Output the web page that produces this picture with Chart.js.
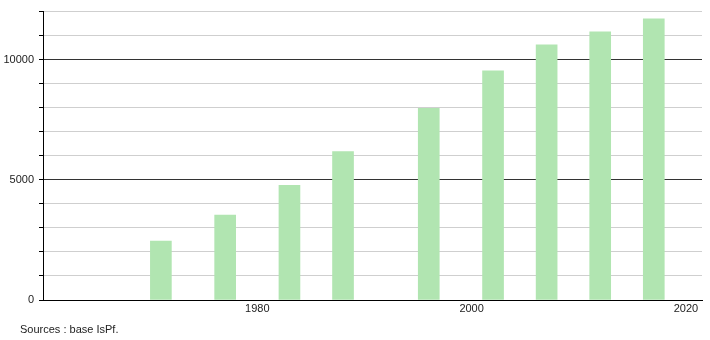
<!DOCTYPE html>
<html>
<head>
<meta charset="utf-8">
<script src="https://cdn.jsdelivr.net/npm/chart.js@4/dist/chart.umd.min.js"></script>
<style>
  html, body { margin: 0; padding: 0; background: #fff; }
  #wrap { position: relative; width: 710px; height: 340px; }
  #source {
    position: absolute; left: 20px; top: 323px;
    font: 11px "Liberation Sans", Arial, sans-serif; color: #222;
  }
</style>
</head>
<body>
<div id="wrap">
  <canvas id="chart" width="710" height="340"></canvas>
  <div id="source">Sources : base IsPf.</div>
</div>
<script>
// ── Data ────────────────────────────────────────────────────────────

const YEARS = [1971, 1977, 1983, 1988, 1996, 2002, 2007, 2012, 2017];
const POPULATION = [2450, 3530, 4770, 6180, 7970, 9540, 10620, 11160, 11700];
const X_TICK_LABELS = [1980, 2000, 2020];
const Y_TICK_LABELS = [0, 5000, 10000];

const BAR_COLOR = '#b1e5b1';

// ── Chart ───────────────────────────────────────────────────────────

const points = YEARS.map((y, i) => ({ x: y, y: POPULATION[i] }));
const font = { family: '"Liberation Sans", Arial, sans-serif', size: 11 };

new Chart(document.getElementById('chart'), {
  type: 'bar',
  data: {
    datasets: [{
      data: points,
      backgroundColor: BAR_COLOR,
      borderWidth: 0,
      barThickness: 21,
    }],
  },
  options: {
    responsive: false,
    animation: false,
    layout: { padding: { top: 4, right: 8, left: 0, bottom: 0 } },
    plugins: { legend: { display: false }, tooltip: { enabled: false } },
    scales: {
      x: {
        type: 'linear',
        min: 1960,
        max: 2021.5,
        offset: false,
        grid: { display: false, drawTicks: false, tickLength: 0 },
        border: { display: true, color: '#000', width: 1 },
        afterBuildTicks: s => { s.ticks = X_TICK_LABELS.map(v => ({ value: v })); },
        ticks: {
          autoSkip: false,
          maxRotation: 0,
          color: '#222',
          font,
          padding: 2,
          callback: v => String(v),
        },
        afterFit: s => { s.height = 40; },
      },
      y: {
        min: 0,
        max: 12000,
        grid: {
          color: c => (c.tick.value % 5000 === 0 ? '#333' : '#cfcfcf'),
          tickColor: '#000',
          tickLength: 4,
        },
        border: { display: true, color: '#000', width: 1 },
        ticks: {
          stepSize: 1000,
          autoSkip: false,
          color: '#222',
          font,
          padding: 5,
          callback: v => Y_TICK_LABELS.includes(v) ? String(v) : '',
        },
        afterFit: s => { s.width = 43; },
      },
    },
  },
});
</script>
</body>
</html>
